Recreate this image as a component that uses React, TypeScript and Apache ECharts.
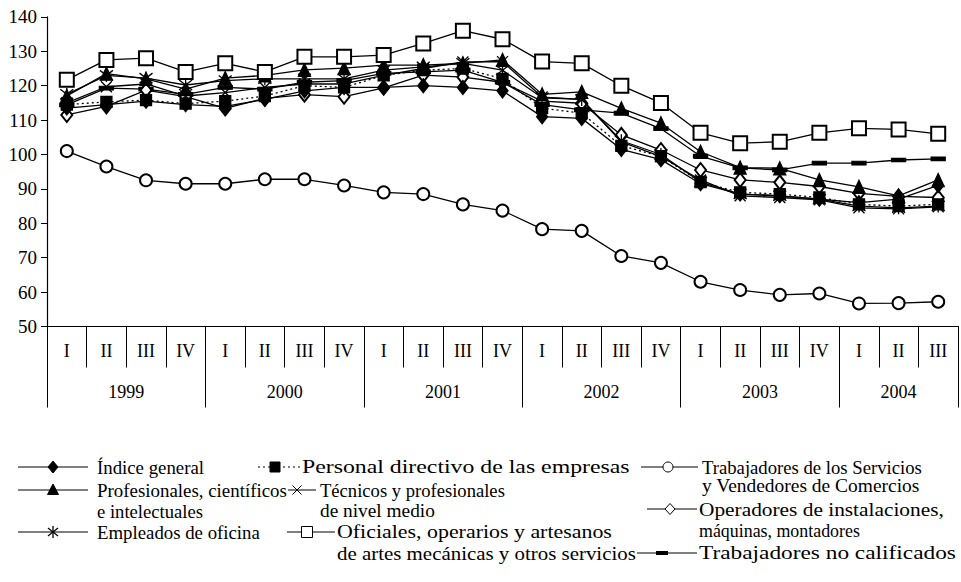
import React, { useEffect, useRef } from 'react';
import * as echarts from 'echarts';

const quarters = ['I', 'II', 'III', 'IV', 'I', 'II', 'III', 'IV', 'I', 'II', 'III', 'IV', 'I', 'II', 'III', 'IV', 'I', 'II', 'III', 'IV', 'I', 'II', 'III'];
const years = ['1999', '2000', '2001', '2002', '2003', '2004'];
const yearCenters = [2, 6, 10, 14, 18, 21.5];
const yearStarts = [0, 4, 8, 12, 16, 20];

const indiceGeneral = [113.5, 114.5, 115.5, 114.5, 114, 116, 118.5, 119.5, 119.5, 120, 119.5, 118.5, 111, 110.5, 101.5, 98.5, 91.5, 88.5, 88, 87, 86, 87, 91];
const personalDirectivo = [114.5, 115.3, 115.8, 114.8, 115.5, 117, 120, 119.5, 123, 124.5, 125, 122, 113.5, 112, 102.5, 99.5, 92, 89, 88.5, 87.5, 85.5, 85, 85.5];
const servicios = [101, 96.5, 92.5, 91.5, 91.5, 92.8, 92.8, 91, 89, 88.5, 85.5, 83.7, 78.3, 77.8, 70.5, 68.5, 63, 60.6, 59.2, 59.6, 56.7, 56.8, 57.2];
const profesionales = [117, 123.5, 122, 119, 122.2, 123, 124.6, 125.1, 126, 126, 126.5, 127.5, 117.5, 118.2, 113.4, 109.1, 100.8, 96.2, 96, 92.6, 90.6, 88, 92.6];
const tecnicos = [115, 119.7, 120.5, 117, 118, 119.5, 120.5, 120.5, 123, 125, 126.9, 127, 116.7, 116, 103.7, 99.4, 92.6, 88, 87.5, 86.8, 84.5, 84.2, 84.8];
const empleados = [117.5, 123, 122.2, 120.2, 121.5, 122, 122, 122, 124.5, 125.5, 126.5, 124.5, 116.5, 116, 104, 100, 92, 88.5, 88, 87, 85, 84.5, 85];
const oficiales = [121.7, 127.5, 128, 124, 126.5, 124, 128.4, 128.4, 128.9, 132.3, 136, 133.5, 127, 126.5, 120, 115, 106.3, 103.3, 103.7, 106.3, 107.6, 107.3, 106];
const operadores = [111.5, 114, 118.7, 116.8, 113.4, 116.3, 117.4, 116.8, 119.4, 123.1, 122.5, 121, 115.5, 114.9, 105.7, 101.3, 95.5, 92.6, 91.9, 90.7, 88.7, 87.8, 87.5];
const noCalificados = [114.4, 119.3, 119, 117.5, 119.5, 119, 121, 121.5, 123.6, 124, 124.5, 121, 114.5, 113, 112, 107.5, 99.5, 96.1, 95.5, 97.5, 97.5, 98.4, 98.7];

const FONT = '"Liberation Serif", "Times New Roman", serif';
const LEGEND_PX = 19;
const X_PATH = 'path://M0,0L10,10M10,0L0,10';
const STAR_PATH = 'path://M0,0L10,10M10,0L0,10M5,-1.5L5,11.5';

function mkSeries(name: string, data: number[], symbol: string, size: any, dotted = false) {
  return {
    name,
    type: 'line',
    data,
    xAxisIndex: 0,
    yAxisIndex: 0,
    symbol,
    symbolSize: size,
    showSymbol: true,
    lineStyle: { color: '#000', width: 1.3, type: dotted ? [2, 3] : 'solid' },
    itemStyle: { color: '#000', borderColor: '#000', borderWidth: 1.3 },
    emphasis: { disabled: true },
  };
}

function legendSymbol(kind: string, cx: number, cy: number): any[] {
  const s = { stroke: '#000', lineWidth: 1 };
  switch (kind) {
    case 'diamond':
      return [{ type: 'polygon', shape: { points: [[cx, cy - 6], [cx + 5, cy], [cx, cy + 6], [cx - 5, cy]] }, style: { fill: '#000', ...s } }];
    case 'emptyDiamond':
      return [{ type: 'polygon', shape: { points: [[cx, cy - 5.5], [cx + 5, cy], [cx, cy + 5.5], [cx - 5, cy]] }, style: { fill: '#fff', ...s } }];
    case 'triangle':
      return [{ type: 'polygon', shape: { points: [[cx, cy - 6], [cx + 5.5, cy + 4.5], [cx - 5.5, cy + 4.5]] }, style: { fill: '#000', ...s } }];
    case 'rect':
      return [{ type: 'rect', shape: { x: cx - 5, y: cy - 5, width: 10, height: 10 }, style: { fill: '#000', ...s } }];
    case 'emptyRect':
      return [{ type: 'rect', shape: { x: cx - 5.5, y: cy - 5.5, width: 11, height: 11 }, style: { fill: '#fff', ...s } }];
    case 'circle':
      return [{ type: 'circle', shape: { cx, cy, r: 5 }, style: { fill: '#fff', ...s } }];
    case 'dash':
      return [{ type: 'rect', shape: { x: cx - 6, y: cy - 2, width: 12, height: 4 }, style: { fill: '#000', stroke: '#000', lineWidth: 0 } }];
    case 'x':
      return [
        { type: 'line', shape: { x1: cx - 4.5, y1: cy - 4.5, x2: cx + 4.5, y2: cy + 4.5 }, style: s },
        { type: 'line', shape: { x1: cx + 4.5, y1: cy - 4.5, x2: cx - 4.5, y2: cy + 4.5 }, style: s },
      ];
    case 'star':
      return [
        { type: 'line', shape: { x1: cx - 5, y1: cy - 4, x2: cx + 5, y2: cy + 4 }, style: { ...s, lineWidth: 1.3 } },
        { type: 'line', shape: { x1: cx + 5, y1: cy - 4, x2: cx - 5, y2: cy + 4 }, style: { ...s, lineWidth: 1.3 } },
        { type: 'line', shape: { x1: cx, y1: cy - 6, x2: cx, y2: cy + 6 }, style: { ...s, lineWidth: 1.3 } },
      ];
  }
  return [];
}

let measureCtx: CanvasRenderingContext2D | null = null;
function measure(text: string): number {
  if (!measureCtx) measureCtx = document.createElement('canvas').getContext('2d');
  if (!measureCtx) return text.length * 8;
  measureCtx.font = LEGEND_PX + 'px ' + FONT;
  return measureCtx.measureText(text).width;
}

function legendText(text: string, x: number, y: number, right: number) {
  const w = measure(text);
  let sx = (right - x) / w;
  if (!isFinite(sx)) sx = 1;
  sx = Math.max(0.85, Math.min(1.35, sx));
  return {
    type: 'text',
    x,
    y,
    scaleX: sx,
    style: { text, font: LEGEND_PX + 'px ' + FONT, fill: '#000', align: 'left', verticalAlign: 'middle' },
  };
}

function legendEntry(kind: string, x1: number, x2: number, sx: number, y: number, lines: string[], tx: number, lineYs: number[], rights: number[], dotted = false) {
  const els: any[] = [];
  els.push({ type: 'line', shape: { x1, y1: y, x2, y2: y }, style: { stroke: '#000', lineWidth: 1, lineDash: dotted ? [2, 3] : null } });
  els.push(...legendSymbol(kind, sx, y));
  lines.forEach((t, i) => els.push(legendText(t, tx, lineYs[i], rights[i])));
  return els;
}

export default function App() {
  const ref = useRef<HTMLDivElement>(null);
  useEffect(() => {
    if (!ref.current) return;
    const chart = echarts.init(ref.current, null, { renderer: 'svg' });
    const axisLine = { color: '#000', width: 1.2 };
    const graphics: any[] = [
      ...legendEntry('diamond', 18, 88, 53, 467, ['Índice general'], 97, [467], [204]),
      ...legendEntry('triangle', 18, 88, 53, 490, ['Profesionales, científicos', 'e intelectuales'], 97, [490, 511], [287, 203]),
      ...legendEntry('star', 18, 88, 53, 532, ['Empleados de oficina'], 97, [532], [260]),
      ...legendEntry('rect', 258, 300, 275, 467, ['Personal directivo de las empresas'], 302, [467], [630], true),
      ...legendEntry('x', 288, 316, 297, 490, ['Técnicos y profesionales', 'de nivel medio'], 320, [490, 511], [505, 435]),
      ...legendEntry('emptyRect', 287, 335, 307, 532, ['Oficiales, operarios y artesanos', 'de artes mecánicas y otros servicios'], 337, [532, 553], [612, 636]),
      ...legendEntry('circle', 641, 698, 668, 467, ['Trabajadores de los Servicios', 'y Vendedores de Comercios'], 702, [467, 486], [922, 920]),
      ...legendEntry('emptyDiamond', 647, 697, 670, 509, ['Operadores de instalaciones,', 'máquinas, montadores'], 699, [509, 531], [944, 860]),
      ...legendEntry('dash', 637, 697, 662, 553, ['Trabajadores no calificados'], 699, [553], [956]),
    ];
    chart.setOption({
      animation: false,
      backgroundColor: '#fff',
      textStyle: { fontFamily: FONT, color: '#000' },
      grid: { left: 47, top: 16.9, width: 917.7, height: 309.6, show: false },
      xAxis: [
        {
          type: 'category',
          data: quarters,
          position: 'bottom',
          boundaryGap: true,
          axisLine: { show: true, lineStyle: axisLine },
          axisTick: { show: true, interval: 0, length: 41, lineStyle: { color: '#000', width: 1 } },
          axisLabel: { interval: 0, margin: 15, fontSize: 18, fontFamily: FONT, color: '#000' },
          splitLine: { show: false },
        },
        {
          type: 'category',
          data: quarters,
          position: 'bottom',
          boundaryGap: true,
          axisLine: { show: false },
          axisTick: { show: true, interval: (i: number) => yearStarts.indexOf(i) >= 0, length: 81, lineStyle: { color: '#000', width: 1 } },
          axisLabel: { show: false },
          splitLine: { show: false },
        },
        {
          type: 'value',
          min: 0,
          max: 23,
          interval: 0.5,
          position: 'bottom',
          axisLine: { show: false },
          axisTick: { show: false },
          splitLine: { show: false },
          axisLabel: {
            margin: 56,
            fontSize: 18,
            fontFamily: FONT,
            color: '#000',
            formatter: (v: number) => {
              const i = yearCenters.indexOf(v);
              return i >= 0 ? years[i] : '';
            },
          },
        },
      ],
      yAxis: {
        type: 'value',
        min: 50,
        max: 140,
        interval: 10,
        axisLine: { show: true, lineStyle: axisLine },
        axisTick: { show: true, length: 6, lineStyle: { color: '#000', width: 1 } },
        axisLabel: { margin: 10, fontSize: 19, fontFamily: FONT, color: '#000' },
        splitLine: { show: false },
      },
      series: [
        mkSeries('Trabajadores de los Servicios y Vendedores de Comercios', servicios, 'emptyCircle', 12),
        mkSeries('Trabajadores no calificados', noCalificados, 'rect', [13, 4]),
        mkSeries('Operadores de instalaciones, máquinas, montadores', operadores, 'emptyDiamond', [11, 14]),
        mkSeries('Índice general', indiceGeneral, 'diamond', [11, 14]),
        mkSeries('Personal directivo de las empresas', personalDirectivo, 'rect', 11, true),
        mkSeries('Técnicos y profesionales de nivel medio', tecnicos, X_PATH, 11),
        mkSeries('Empleados de oficina', empleados, STAR_PATH, 13),
        mkSeries('Profesionales, científicos e intelectuales', profesionales, 'triangle', [12, 13]),
        mkSeries('Oficiales, operarios y artesanos de artes mecánicas y otros servicios', oficiales, 'emptyRect', 14),
      ],
      graphic: graphics,
    });
    return () => chart.dispose();
  }, []);
  return <div ref={ref} style={{ position: 'fixed', left: 0, top: 0, width: 961, height: 582, background: '#fff' }} />;
}
